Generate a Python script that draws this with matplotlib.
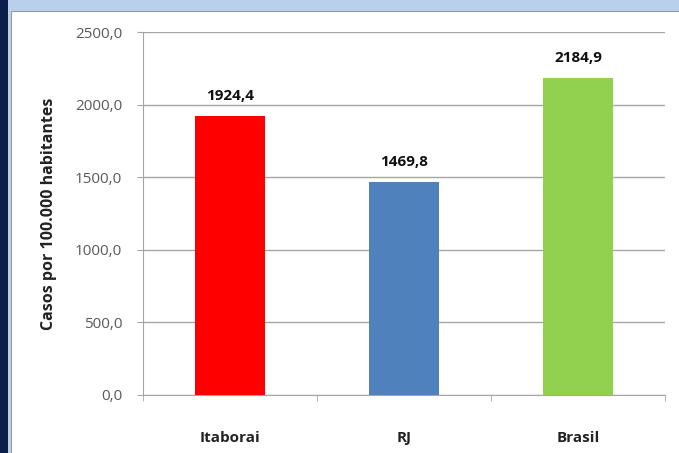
import matplotlib.pyplot as plt
import matplotlib.patches as patches

# Data
categories = ['Itaborai', 'RJ', 'Brasil']
values = [1924.4, 1469.8, 2184.9]
bar_colors = ['#ff0000', '#4f81bd', '#92d050']
yticks = [0, 500, 1000, 1500, 2000, 2500]

plt.rcParams['font.family'] = ['Open Sans', 'DejaVu Sans']

W, H = 679, 453
fig = plt.figure(figsize=(W / 100, H / 100), dpi=100)
fig.patch.set_facecolor('#b9d0ea')

# Frame: navy strip on the left, white chart area (drawn on a background axes)
bg = fig.add_axes([0, 0, 1, 1], zorder=-10)
bg.set_xlim(0, W)
bg.set_ylim(H, 0)
bg.axis('off')
bg.add_patch(patches.Rectangle((0, 0), 8, H, facecolor='#0b1f4d', edgecolor='none'))
bg.add_patch(patches.Rectangle((11, 11), W, H, facecolor='white',
                               edgecolor='#9a9a9a', linewidth=0.8))

ax = fig.add_axes([143 / W, 1 - 395 / H, (665 - 143) / W, (395 - 32) / H])
ax.set_facecolor('white')

x = range(len(categories))
ax.bar(x, values, width=0.4, color=bar_colors, zorder=3)
ax.set_xlim(-0.5, len(categories) - 0.5)
ax.set_ylim(0, 2500)

ax.set_yticks(yticks)
ax.set_yticklabels([f'{v:.1f}'.replace('.', ',') for v in yticks],
                   color='#595959', fontsize=11)
ax.yaxis.grid(True, color='#a6a6a6', linewidth=1, zorder=0)
ax.tick_params(axis='y', length=4, color='#a6a6a6', pad=11)

ax.set_xticks(x)
ax.set_xticklabels(categories, fontsize=11, fontweight='bold', color='#222222')
ax.tick_params(axis='x', length=0, pad=26)
ax.set_xticks([-0.5, 0.5, 1.5, 2.5], minor=True)
ax.tick_params(axis='x', which='minor', length=4, color='#a6a6a6')

for side in ['top', 'right']:
    ax.spines[side].set_visible(False)
for side in ['left', 'bottom']:
    ax.spines[side].set_color('#a6a6a6')

ax.set_ylabel('Casos por 100.000 habitantes', fontsize=11.5, fontweight='bold',
              color='#222222', labelpad=13)

for xi, v in zip(x, values):
    ax.text(xi, v + 85, f'{v:.1f}'.replace('.', ','), ha='center', va='bottom',
            fontsize=11, fontweight='bold', color='#111111')

fig.savefig('out.png', dpi=100)
